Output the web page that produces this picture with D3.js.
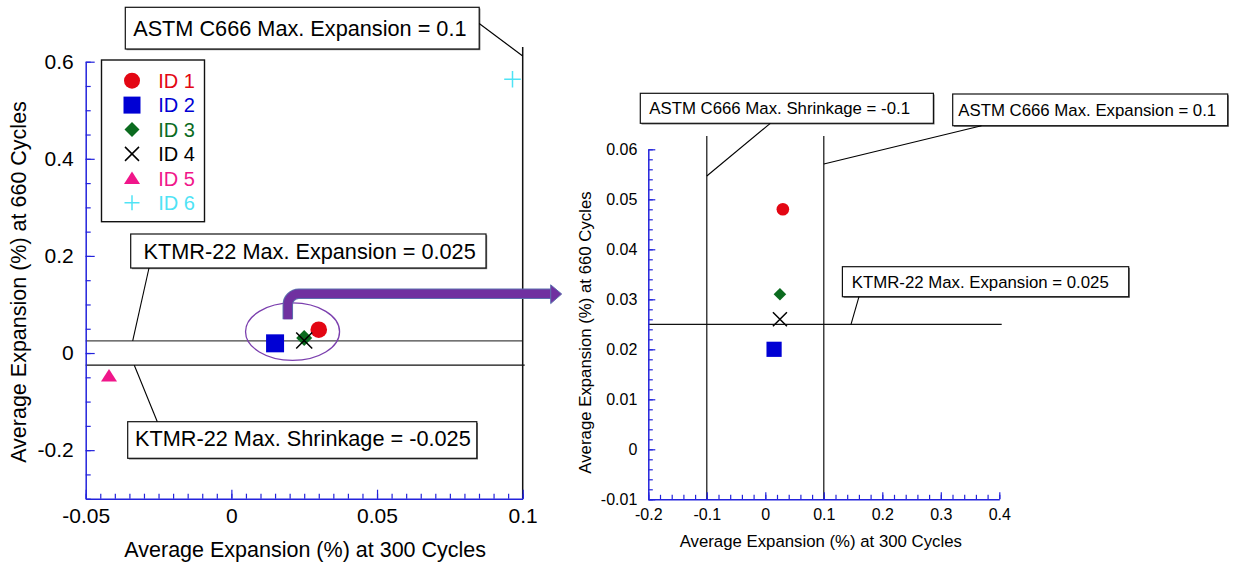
<!DOCTYPE html>
<html>
<head>
<meta charset="utf-8">
<script src="https://cdn.jsdelivr.net/npm/d3@7"></script>
<style>
  body { margin: 0; background: #fff; }
  svg { display: block; font-family: "Liberation Sans", Arial, sans-serif; }
</style>
</head>
<body>
<svg id="chart" width="1233" height="564"></svg>
<script>
// ---- data ----
const ids = ["ID 1", "ID 2", "ID 3", "ID 4", "ID 5", "ID 6"];
const exp300 = [0.030, 0.015, 0.025, 0.025, -0.042, 0.0965];
const exp660 = [0.048, 0.020, 0.031, 0.026, -0.047, 0.564];
const markerShapes = ["circle", "square", "diamond", "times", "triangle", "plus"];
const markerColors = ["#e30613", "#0000d4", "#0b6b1f", "#000000", "#f0168a", "#4fe3f5"];

const leftXTicks = [-0.05, 0, 0.05, 0.1];
const leftYTicks = [-0.2, 0, 0.2, 0.4, 0.6];
const rightXTicks = [-0.2, -0.1, 0, 0.1, 0.2, 0.3, 0.4];
const rightYTicks = [-0.01, 0, 0.01, 0.02, 0.03, 0.04, 0.05, 0.06];

const ktmrMaxExpansion = 0.025;
const ktmrMaxShrinkage = -0.025;
const astmMaxExpansion = 0.1;
const astmMaxShrinkage = -0.1;

const xTitle = "Average Expansion (%) at 300 Cycles";
const yTitle = "Average Expansion (%) at 660 Cycles";

const points = ids.map((id, i) => ({
  id, x: exp300[i], y: exp660[i], shape: markerShapes[i], color: markerColors[i]
}));

// ---- helpers ----
const svg = d3.select("#chart");
const AXIS = "#2323dc";

function shapePath(shape, s) {
  switch (shape) {
    case "circle":   return d3.symbol(d3.symbolCircle, Math.PI * s * s)();
    case "square":   return `M${-s},${-s}h${2 * s}v${2 * s}h${-2 * s}Z`;
    case "diamond":  return `M0,${-s}L${s},0L0,${s}L${-s},0Z`;
    case "triangle": return `M0,${-s * 0.85}L${s},${s * 0.7}L${-s},${s * 0.7}Z`;
    case "times":    return `M${-s},${-s}L${s},${s}M${-s},${s}L${s},${-s}`;
    case "plus":     return `M${-s},0H${s}M0,${-s}V${s}`;
  }
}
const stroked = sh => sh === "times" || sh === "plus";

function drawMarker(g, d, x, y, sizes) {
  const s = sizes[d.shape];
  g.append("path")
    .attr("transform", `translate(${x},${y})`)
    .attr("d", shapePath(d.shape, s))
    .attr("fill", stroked(d.shape) ? "none" : d.color)
    .attr("stroke", stroked(d.shape) ? d.color : "none")
    .attr("stroke-width", 1.5);
}

function fmt(v) { return String(+v.toFixed(4)); }

function drawAxes(g, x, y, opt) {
  const [x0, x1] = x.range();
  const [y0, y1] = y.range();
  const xd = x.domain(), yd = y.domain();
  const xMinor = d3.range(Math.round((xd[1] - xd[0]) / opt.xMinor) + 1).map(i => xd[0] + i * opt.xMinor);
  const yMinor = d3.range(Math.round((yd[1] - yd[0]) / opt.yMinor) + 1).map(i => yd[0] + i * opt.yMinor);

  // minor ticks
  g.append("g").attr("transform", `translate(0,${y0})`)
    .call(d3.axisBottom(x).tickValues(xMinor).tickSize(-opt.minorLen).tickSizeOuter(0).tickFormat(""))
    .call(a => a.select(".domain").remove())
    .call(a => a.selectAll("line").attr("stroke", AXIS).attr("stroke-width", 1.2));
  g.append("g").attr("transform", `translate(${x0},0)`)
    .call(d3.axisLeft(y).tickValues(yMinor).tickSize(-opt.minorLen).tickSizeOuter(0).tickFormat(""))
    .call(a => a.select(".domain").remove())
    .call(a => a.selectAll("line").attr("stroke", AXIS).attr("stroke-width", 1.2));

  // major ticks and labels
  g.append("g").attr("transform", `translate(0,${y0})`)
    .call(d3.axisBottom(x).tickValues(opt.xTicks).tickSize(-opt.majorLen).tickSizeOuter(0)
      .tickPadding(opt.xPad).tickFormat(fmt))
    .call(a => a.select(".domain").attr("stroke", AXIS).attr("stroke-width", 1.5))
    .call(a => a.selectAll("line").attr("stroke", AXIS).attr("stroke-width", 1.2))
    .call(a => a.selectAll("text").attr("fill", "#000").attr("font-size", opt.tickFont)
      .attr("font-family", "Liberation Sans, Arial, sans-serif"));
  g.append("g").attr("transform", `translate(${x0},0)`)
    .call(d3.axisLeft(y).tickValues(opt.yTicks).tickSize(-opt.majorLen).tickSizeOuter(0)
      .tickPadding(opt.yPad).tickFormat(fmt))
    .call(a => a.select(".domain").attr("stroke", AXIS).attr("stroke-width", 1.5))
    .call(a => a.selectAll("line").attr("stroke", AXIS).attr("stroke-width", 1.2))
    .call(a => a.selectAll("text").attr("fill", "#000").attr("font-size", opt.tickFont)
      .attr("font-family", "Liberation Sans, Arial, sans-serif"));

  // axis titles
  g.append("text")
    .attr("x", (x0 + x1) / 2 + opt.xTitleShift).attr("y", opt.xTitleY)
    .attr("text-anchor", "middle").attr("font-size", opt.titleFont).attr("fill", "#000")
    .text(xTitle);
  g.append("text")
    .attr("transform", `translate(${opt.yTitleX},${opt.yTitleCY}) rotate(-90)`)
    .attr("text-anchor", "middle").attr("font-size", opt.titleFont).attr("fill", "#000")
    .text(yTitle);
}

function calloutBox(g, bx, by, bw, bh, text, tx, ty, fs) {
  g.append("rect").attr("x", bx + 1.2).attr("y", by + 1.2).attr("width", bw).attr("height", bh)
    .attr("fill", "#777");
  g.append("rect").attr("x", bx).attr("y", by).attr("width", bw).attr("height", bh)
    .attr("fill", "#fff").attr("stroke", "#111").attr("stroke-width", 1.2);
  g.append("text").attr("x", tx).attr("y", ty).attr("font-size", fs).attr("fill", "#000").text(text);
}

function leader(g, xa, ya, xb, yb) {
  g.append("line").attr("x1", xa).attr("y1", ya).attr("x2", xb).attr("y2", yb)
    .attr("stroke", "#000").attr("stroke-width", 1.1);
}

// ================= left panel =================
const gl = svg.append("g");
const xL = d3.scaleLinear().domain([-0.05, 0.1]).range([85.7, 522.7]);
const yL = d3.scaleLinear().domain([-0.3, 0.6]).range([498.7, 61.7]);

// limit lines
gl.append("line").attr("x1", xL.range()[0]).attr("x2", xL(astmMaxExpansion))
  .attr("y1", yL(ktmrMaxExpansion)).attr("y2", yL(ktmrMaxExpansion))
  .attr("stroke", "#444").attr("stroke-width", 1.4);
gl.append("line").attr("x1", xL.range()[0]).attr("x2", xL(astmMaxExpansion) + 2)
  .attr("y1", yL(ktmrMaxShrinkage)).attr("y2", yL(ktmrMaxShrinkage))
  .attr("stroke", "#111").attr("stroke-width", 1.4);
gl.append("line").attr("x1", xL(astmMaxExpansion)).attr("x2", xL(astmMaxExpansion))
  .attr("y1", 47).attr("y2", yL.range()[0])
  .attr("stroke", "#111").attr("stroke-width", 1.5);

drawAxes(gl, xL, yL, {
  xTicks: leftXTicks, yTicks: leftYTicks, xMinor: 0.005, yMinor: 0.05,
  majorLen: 9, minorLen: 5, xPad: 9, yPad: 12, tickFont: "21px",
  titleFont: "21.5px", xTitleY: 557, xTitleShift: 1, yTitleX: 26, yTitleCY: 282
});

// callouts
calloutBox(gl, 125.3, 7.3, 353.9, 41.7, "ASTM C666 Max. Expansion = 0.1", 133.2, 36, "21.7px");
leader(gl, 479.2, 23.5, xL(astmMaxExpansion), 56);
calloutBox(gl, 130.7, 234, 355.3, 34, "KTMR-22 Max. Expansion = 0.025", 143.6, 258.5, "21.7px");
leader(gl, 149, 268, 132.7, yL(ktmrMaxExpansion));
calloutBox(gl, 127.7, 421.7, 349.1, 36.6, "KTMR-22 Max. Shrinkage = -0.025", 135, 446, "21.7px");
leader(gl, 157.3, 421.7, 134.3, yL(ktmrMaxShrinkage));

// legend
const lg = gl.append("g");
lg.append("rect").attr("x", 101.5).attr("y", 60).attr("width", 103).attr("height", 161.7)
  .attr("fill", "#fff").attr("stroke", "#111").attr("stroke-width", 1.4);
const legendSizes = { circle: 8, square: 8.5, diamond: 7.5, times: 7, triangle: 8, plus: 7.5 };
points.forEach((d, i) => {
  const cy = 80.7 + i * 24.4;
  drawMarker(lg, d, 132, cy, legendSizes);
  lg.append("text").attr("x", 158.3).attr("y", cy).attr("dy", "0.36em")
    .attr("font-size", "20px").attr("fill", d.color).text(d.id);
});

// zoom ellipse around the clustered points
gl.append("ellipse").attr("cx", xL(0.021)).attr("cy", yL(0.044)).attr("rx", 47).attr("ry", 28.7)
  .attr("fill", "none").attr("stroke", "#7b3fae").attr("stroke-width", 1.3);

// points
const leftSizes = { circle: 8.3, square: 9, diamond: 8, times: 8, triangle: 8, plus: 8.3 };
points.forEach(d => drawMarker(gl, d, xL(d.x), yL(d.y), leftSizes));

// connector arrow
const arrow = svg.append("g");
const ax = 287.8, ay = 293.8, r = 11, ab = 319.3, aEnd = 551.7;
const arrowPath = `M${ax},${ab}V${ay + r}A${r},${r} 0 0 1 ${ax + r},${ay}H${aEnd}`;
arrow.append("path").attr("d", arrowPath).attr("fill", "none")
  .attr("stroke", "#5d6fae").attr("stroke-width", 10.5);
arrow.append("path").attr("d", arrowPath).attr("fill", "none")
  .attr("stroke", "#7030a0").attr("stroke-width", 8.5);
arrow.append("path").attr("d", `M${aEnd - 1},284.8L${aEnd + 10},294L${aEnd - 1},303.6Z`)
  .attr("fill", "#7030a0").attr("stroke", "#5d6fae").attr("stroke-width", 1);

// ================= right panel =================
const gr = svg.append("g");
const xR = d3.scaleLinear().domain([-0.2, 0.4]).range([648.3, 999.3]);
const yR = d3.scaleLinear().domain([-0.01, 0.06]).range([499.3, 149.3]);

gr.append("line").attr("x1", xR.range()[0]).attr("x2", 1001.7)
  .attr("y1", yR(ktmrMaxExpansion)).attr("y2", yR(ktmrMaxExpansion))
  .attr("stroke", "#111").attr("stroke-width", 1.2);
[astmMaxShrinkage, astmMaxExpansion].forEach(v => {
  gr.append("line").attr("x1", xR(v)).attr("x2", xR(v)).attr("y1", 136).attr("y2", yR.range()[0])
    .attr("stroke", "#111").attr("stroke-width", 1.2);
});

drawAxes(gr, xR, yR, {
  xTicks: rightXTicks, yTicks: rightYTicks, xMinor: 0.02, yMinor: 0.002,
  majorLen: 7, minorLen: 4.5, xPad: 9, yPad: 11, tickFont: "16px",
  titleFont: "16.8px", xTitleY: 546.7, xTitleShift: -3, yTitleX: 591, yTitleCY: 332.5
});

calloutBox(gr, 640.3, 93.3, 293.1, 30, "ASTM C666 Max. Shrinkage = -0.1", 649.3, 114.3, "16.8px");
leader(gr, 770.3, 123.3, xR(astmMaxShrinkage), 176);
calloutBox(gr, 952.7, 94, 275, 31.7, "ASTM C666 Max. Expansion = 0.1", 958.3, 116, "16.8px");
leader(gr, 981.5, 125.7, xR(astmMaxExpansion), 164);
calloutBox(gr, 842.4, 266.7, 286.3, 30, "KTMR-22 Max. Expansion = 0.025", 851.8, 288.3, "16.8px");
leader(gr, 859, 296.7, 851, yR(ktmrMaxExpansion));

const rightSizes = { circle: 6.3, square: 7.6, diamond: 6.3, times: 7, triangle: 6.5, plus: 7 };
const [rx0, rx1] = xR.domain(), [ry0, ry1] = yR.domain();
points.filter(d => d.x >= rx0 && d.x <= rx1 && d.y >= ry0 && d.y <= ry1)
  .forEach(d => drawMarker(gr, d, xR(d.x), yR(d.y), rightSizes));
</script>
</body>
</html>
